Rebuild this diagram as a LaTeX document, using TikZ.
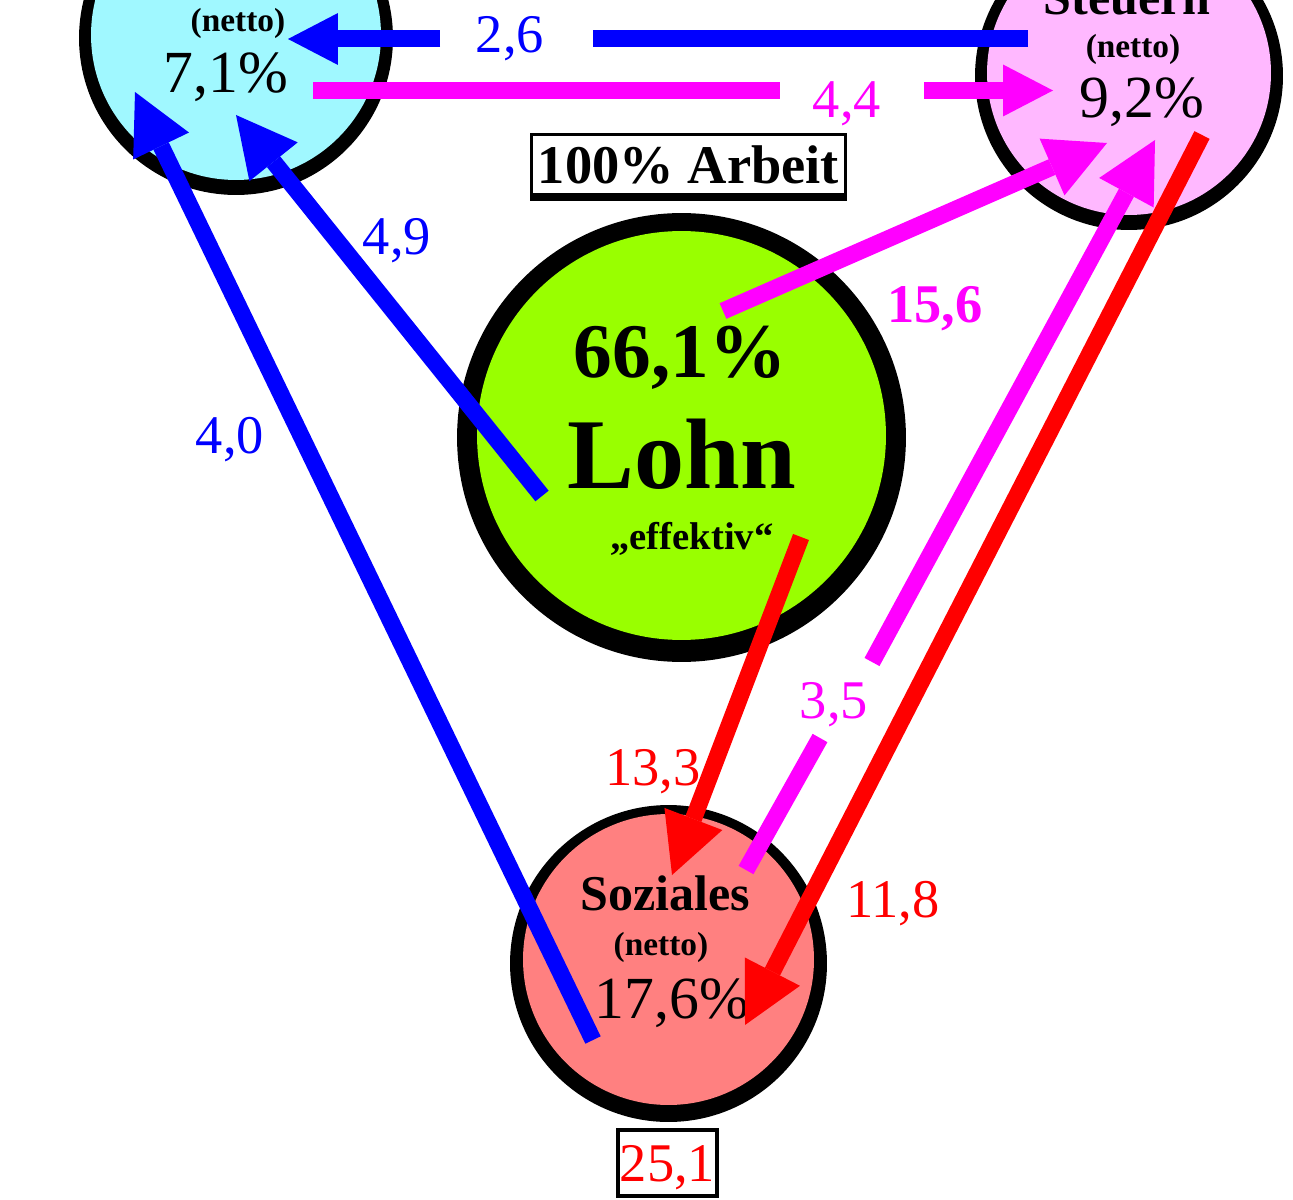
\documentclass[tikz,border=0pt]{standalone}
\usepackage{fontspec}
\setmainfont{Liberation Serif}
\usetikzlibrary{arrows.meta,calc}

\definecolor{kapital}{RGB}{160,248,255}
\definecolor{steuer}{RGB}{255,184,255}
\definecolor{lohngruen}{RGB}{153,255,0}
\definecolor{sozial}{RGB}{255,128,128}
\definecolor{blau}{RGB}{0,0,255}
\definecolor{pink}{RGB}{255,0,255}
\definecolor{rot}{RGB}{255,0,0}

\newcommand{\fs}[1]{\fontsize{#1}{#1}\selectfont}

\begin{document}
\begin{tikzpicture}[x=0.02cm,y=-0.02cm,
	kreis/.style={circle,fill=black,inner sep=0pt},
	strom/.style={line width=0.34cm},
	pfeil/.style={-{Triangle[length=1.2cm,width=1.24cm,line width=0pt]}},
	pfeilk/.style={-{Triangle[length=1cm,width=1.04cm,line width=0pt]}},
	txt/.style={anchor=base},
	wert/.style={anchor=base,font=\fs{31}}]

	\useasboundingbox (0,0) rectangle (1293,1199);
	\clip (0,0) rectangle (1293,1199);

	% circles
	\node[kreis,minimum size=6.28cm] (kap) at (236,38) {};
	\fill[kapital] ($(kap)+(0,-3)$) circle (2.9cm);
	\node[kreis,minimum size=6.16cm] (steu) at (1129,76) {};
	\fill[steuer] ($(steu)+(0,-3)$) circle (2.84cm);
	\node[kreis,minimum size=8.98cm] (lohn) at (681.5,437.5) {};
	\fill[lohngruen] ($(lohn)+(0,-2)$) circle (4.09cm);
	\node[kreis,minimum size=6.34cm] (soz) at (668.5,963.5) {};
	\fill[sozial] ($(soz)+(0,-4)$) circle (2.91cm);

	% texts in the circles
	\node[txt,font=\bfseries\fs{19}] (kapnet) at (238,32) {(netto)};
	\node[txt,font=\fs{34}] (kapwert) at (226,93) {7,1\%};

	\node[txt,font=\bfseries\fs{28.5}] (steuname) at (1127,15) {Steuern};
	\node[txt,font=\bfseries\fs{19}] (steunet) at (1133,58) {(netto)};
	\node[txt,font=\fs{34}] (steuwert) at (1142,118) {9,2\%};

	\node[txt,font=\bfseries\fs{44}] (lohnwert) at (680,377) {66,1\%};
	\node[txt,font=\bfseries\fs{57}] (lohnname) at (682,488) {Lohn};
	\node[txt,font=\bfseries\fs{22}] (lohneff) at (692,549) {„effektiv“};

	\node[txt,font=\bfseries\fs{28.5}] (sozname) at (665,910) {Soziales};
	\node[txt,font=\bfseries\fs{19}] (soznet) at (661,955) {(netto)};
	\node[txt,font=\fs{34}] (sozwert) at (672,1018) {17,6\%};

	% boxes
	\node[draw,line width=0.06cm,inner sep=0pt,minimum width=6.28cm,minimum height=1.2cm,
		font=\bfseries\fs{31}] (arbeit) at (688.5,164.5) {100\% Arbeit};
	\fill (arbeit.south west) rectangle ([yshift=-0.11cm]arbeit.south east);
	\node[draw,line width=0.08cm,inner sep=0pt,minimum width=1.98cm,minimum height=1.32cm,
		text depth=0pt,font=\fs{31},text=rot] (summe) at (667.5,1163) {25,1};

	% ends of the flows
	\coordinate (b26a) at (1028,39);
	\coordinate (b26b) at (593,39);
	\coordinate (b26c) at (440,39);
	\coordinate (b26d) at (288,39);
	\coordinate (b49a) at (542,496);
	\coordinate (b49b) at (236,115);
	\coordinate (b40a) at (593,1040);
	\coordinate (b40b) at (135,92);
	\coordinate (m44a) at (313,90.5);
	\coordinate (m44b) at (780,90.5);
	\coordinate (m44c) at (924,90.5);
	\coordinate (m44d) at (1053,90.5);
	\coordinate (m156a) at (723,311);
	\coordinate (m156b) at (1107,143);
	\coordinate (m35a) at (746,870);
	\coordinate (m35b) at (820,738);
	\coordinate (m35c) at (872,662);
	\coordinate (m35d) at (1155,140);
	\coordinate (r133a) at (801,537);
	\coordinate (r133b) at (672,875);
	\coordinate (r118a) at (1202,135);
	\coordinate (r118b) at (745,1025);

	% flows
	\draw[strom,blau] (b26a) -- (b26b);
	\draw[strom,blau,pfeilk] (b26c) -- (b26d);
	\draw[strom,blau,pfeil] (b49a) -- (b49b);
	\draw[strom,blau,pfeil] (b40a) -- (b40b);
	\draw[strom,pink] (m44a) -- (m44b);
	\draw[strom,pink,pfeilk] (m44c) -- (m44d);
	\draw[strom,pink,pfeil] (m156a) -- (m156b);
	\draw[strom,pink] (m35a) -- (m35b);
	\draw[strom,pink,pfeil] (m35c) -- (m35d);
	\draw[strom,rot,pfeil] (r133a) -- (r133b);
	\draw[strom,rot,pfeil] (r118a) -- (r118b);

	% values
	\node[wert,text=blau] (w26) at (510,53) {2,6};
	\node[wert,text=pink] (w44) at (847,118) {4,4};
	\node[wert,text=blau] (w49) at (397,255) {4,9};
	\node[wert,text=blau] (w40) at (230,453) {4,0};
	\node[wert,text=pink,font=\bfseries\fs{31}] (w156) at (935,322) {15,6};
	\node[wert,text=pink] (w35) at (834,718) {3,5};
	\node[wert,text=rot] (w133) at (653,785) {13,3};
	\node[wert,text=rot] (w118) at (893,917) {11,8};

\end{tikzpicture}
\end{document}
